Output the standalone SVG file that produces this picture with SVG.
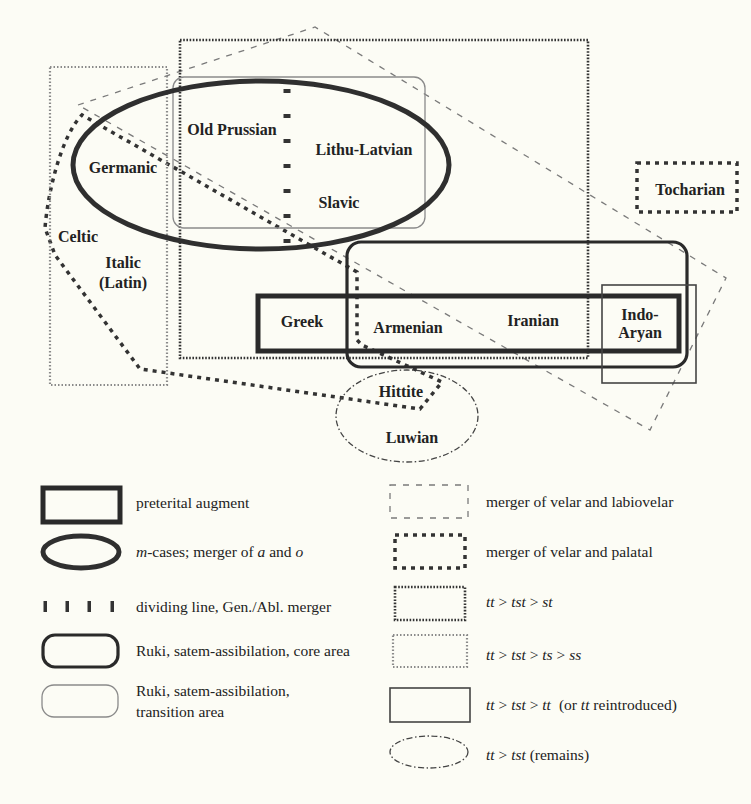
<svg xmlns="http://www.w3.org/2000/svg" width="751" height="804" viewBox="0 0 751 804">
<style>
.lbl{font-family:"Liberation Serif","Times New Roman",serif;font-weight:bold;font-size:16px;fill:#222;text-anchor:middle}
.leg{font-family:"Liberation Serif","Times New Roman",serif;font-size:15.5px;fill:#222}
.it{font-style:italic}
.aug{fill:none;stroke:#2a2a2a;stroke-width:5}
.mc{fill:none;stroke:#2f2f2f;stroke-width:5}
.core{fill:none;stroke:#2a2a2a;stroke-width:3.2}
.trans{fill:none;stroke:#8a8a8a;stroke-width:1.3}
.lab{fill:none;stroke:#7a7a7a;stroke-width:1.3;stroke-dasharray:6 7}
.pal{fill:none;stroke:#333;stroke-width:3.5;stroke-dasharray:4 5}
.st{fill:none;stroke:#333;stroke-width:2.6;stroke-dasharray:1.6 1.6}
.ss{fill:none;stroke:#8a8a8a;stroke-width:2.2;stroke-dasharray:1.5 2}
.tt{fill:none;stroke:#444;stroke-width:1.6}
.rem{fill:none;stroke:#444;stroke-width:1.3;stroke-dasharray:6 2.5 1.5 2.5}
.div{fill:none;stroke:#333;stroke-width:7;stroke-dasharray:4 21}
</style>
<rect x="0" y="0" width="751" height="804" fill="#fcfcf5"/>
<g id="connectors">
<path id="velar-labiovelar" class="lab" d="M78,105 L315,27 L726,278 L650,430 Z"/>
<path id="velar-palatal" class="pal" d="M357,272 L82,115 C62,135 48,190 45,228 L55,255 L140,369 L420,409 L442,382 L362,345 L357,340 Z"/>
<rect id="tt-st" class="st" x="180" y="40" width="408" height="318"/>
<rect id="tt-ss" class="ss" x="50" y="67" width="117" height="318"/>
<rect id="transition" class="trans" x="173" y="77" width="252" height="151" rx="11"/>
<ellipse id="m-cases" class="mc" cx="261" cy="165" rx="188" ry="84"/>
<line id="dividing" class="div" x1="287" y1="89" x2="287" y2="246"/>
<rect id="core" class="core" x="347" y="242" width="340" height="125" rx="14"/>
<rect id="augment" class="aug" x="258" y="296" width="421" height="55"/>
<rect id="tt-tt" class="tt" x="602" y="285" width="94" height="98"/>
<ellipse id="remains" class="rem" cx="407" cy="416" rx="71" ry="46"/>
<rect id="tocharian-box" class="pal" x="637" y="163" width="100" height="49"/>
</g>
<g id="n-oldprussian"><text class="lbl" x="232" y="135">Old Prussian</text></g>
<g id="n-lithulatvian"><text class="lbl" x="364" y="155">Lithu-Latvian</text></g>
<g id="n-germanic"><text class="lbl" x="123" y="173">Germanic</text></g>
<g id="n-slavic"><text class="lbl" x="339" y="208">Slavic</text></g>
<g id="n-celtic"><text class="lbl" x="78" y="242">Celtic</text></g>
<g id="n-italic"><text class="lbl" x="123" y="268">Italic</text><text class="lbl" x="123" y="288">(Latin)</text></g>
<g id="n-tocharian"><text class="lbl" x="690" y="195">Tocharian</text></g>
<g id="n-greek"><text class="lbl" x="302" y="327">Greek</text></g>
<g id="n-armenian"><text class="lbl" x="408" y="333">Armenian</text></g>
<g id="n-iranian"><text class="lbl" x="533" y="326">Iranian</text></g>
<g id="n-indoaryan"><text class="lbl" x="640" y="320">Indo-</text><text class="lbl" x="640" y="338">Aryan</text></g>
<g id="n-hittite"><text class="lbl" x="401" y="397">Hittite</text></g>
<g id="n-luwian"><text class="lbl" x="412" y="443">Luwian</text></g>
<g id="legend">
<rect class="aug" x="43" y="488" width="77" height="34"/>
<text class="leg" x="136" y="508">preterital augment</text>
<ellipse class="mc" cx="81" cy="552" rx="38" ry="16"/>
<text class="leg" x="136" y="557"><tspan class="it">m</tspan>-cases; merger of <tspan class="it">a</tspan> and <tspan class="it">o</tspan></text>
<g fill="#333"><rect x="43.5" y="601" width="3.5" height="11"/><rect x="65.5" y="601" width="3.5" height="11"/><rect x="87.5" y="601" width="3.5" height="11"/><rect x="110.5" y="601" width="3.5" height="11"/></g>
<text class="leg" x="136" y="612">dividing line, Gen./Abl. merger</text>
<rect class="core" x="43" y="635" width="75" height="32" rx="12"/>
<text class="leg" x="136" y="656">Ruki, satem-assibilation, core area</text>
<rect class="trans" x="42" y="685" width="76" height="32" rx="12"/>
<text class="leg" x="136" y="696">Ruki, satem-assibilation,</text>
<text class="leg" x="136" y="717">transition area</text>
<rect class="lab" x="390" y="485" width="78" height="33"/>
<text class="leg" x="486" y="507">merger of velar and labiovelar</text>
<rect class="pal" x="395" y="535" width="70" height="33"/>
<text class="leg" x="486" y="557">merger of velar and palatal</text>
<rect class="st" x="395" y="587" width="70" height="33"/>
<text class="leg" x="486" y="607"><tspan class="it">tt</tspan> &gt; <tspan class="it">tst</tspan> &gt; <tspan class="it">st</tspan></text>
<rect class="ss" x="393" y="635" width="74" height="32"/>
<text class="leg" x="486" y="660"><tspan class="it">tt</tspan> &gt; <tspan class="it">tst</tspan> &gt; <tspan class="it">ts</tspan> &gt; <tspan class="it">ss</tspan></text>
<rect class="tt" x="390" y="688" width="80" height="34"/>
<text class="leg" x="486" y="710"><tspan class="it">tt</tspan> &gt; <tspan class="it">tst</tspan> &gt; <tspan class="it">tt</tspan><tspan dx="8">(or </tspan><tspan class="it">tt</tspan> reintroduced)</text>
<ellipse class="rem" cx="429" cy="752" rx="39" ry="16"/>
<text class="leg" x="486" y="760"><tspan class="it">tt</tspan> &gt; <tspan class="it">tst</tspan> (remains)</text>
</g>
</svg>
